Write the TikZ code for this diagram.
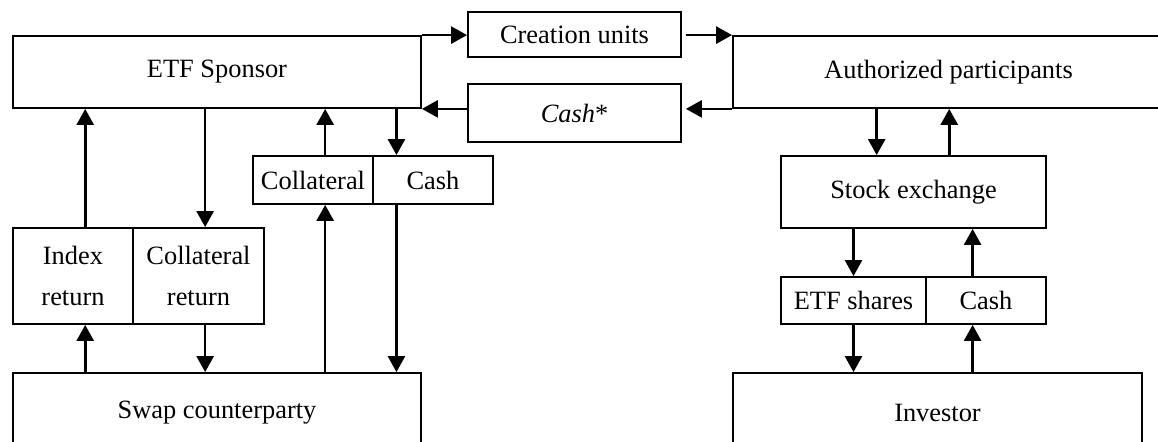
\documentclass[tikz,border=0pt]{standalone}
\usepackage{fontspec}
\setmainfont{Liberation Serif}
\usetikzlibrary{arrows.meta,calc}
\tikzset{
  box/.style={draw, line width=0.9pt, inner sep=0pt, align=center,
    font=\fontsize{13.2pt}{20.5pt}\selectfont},
  arr/.style={line width=1.3pt, -{Triangle[length=8pt,width=8.5pt]}}
}
\begin{document}
\begin{tikzpicture}[x=0.5pt,y=-0.5pt]
\useasboundingbox (0,0) rectangle (1158,442);
\clip (0,0) rectangle (1158,442);
% boxes
\node[box, minimum width=204pt, minimum height=36pt] (sponsor) at (217,72) {ETF Sponsor};
\node[box, minimum width=106.5pt, minimum height=22.5pt] (creation) at (574.5,34.5) {Creation units};
\node[box, minimum width=106.5pt, minimum height=29pt] (cashstar) at (574.5,113) {\textit{Cash}*};
\node[box, minimum width=215.5pt, minimum height=36pt] (ap) at (948.5,72) {Authorized participants};
\node[box, minimum width=60pt, minimum height=24pt] (collat) at (313,180) {Collateral};
\node[box, minimum width=60pt, minimum height=24pt] (cash) at (433,180) {Cash};
\node[box, minimum width=60.2pt, minimum height=48pt] (idx) at (73,276) {Index\\return};
\node[box, minimum width=65.5pt, minimum height=48pt] (colret) at (198.5,276) {Collateral\\return};
\node[box, minimum width=204pt, minimum height=40pt] (swap) at (217,413) {Swap counterparty};
\node[box, minimum width=132.5pt, minimum height=36pt] (stock) at (913.5,192) {Stock exchange};
\node[box, minimum width=72.5pt, minimum height=23.5pt] (shares) at (853.5,300.5) {ETF shares};
\node[box, minimum width=60pt, minimum height=23.5pt] (cash2) at (986,300.5) {Cash};
\node[box, minimum width=204.5pt, minimum height=40pt] (investor) at (937.5,413) {Investor};
% top connectors
\draw[arr] (sponsor.north east) -- (sponsor.north east -| creation.west);
\draw[arr, shorten <=2pt] (creation.east |- ap.north west) -- (ap.north west);
\draw[arr] (cashstar.west |- sponsor.south east) -- (sponsor.south east);
\draw[arr, shorten >=2pt] (ap.south west) -- (ap.south west -| cashstar.east);
% sponsor <-> collateral/cash
\path ($(cash.north west)!0.2!(cash.north east)$) coordinate (k1);
\draw[arr] (k1 |- sponsor.south) -- (k1);
\draw[arr] ($(cash.south west)!0.2!(cash.south east)$) coordinate (k2) -- (k2 |- swap.north);
\path ($(collat.south west)!0.6!(collat.south east)$) coordinate (k3);
\draw[arr] (k3 |- swap.north) -- (k3);
\draw[arr] ($(collat.north west)!0.6!(collat.north east)$) coordinate (k4) -- (k4 |- sponsor.south);
% sponsor <-> index / collateral return
\draw[arr] ($(idx.north west)!0.6!(idx.north east)$) coordinate (k5) -- (k5 |- sponsor.south);
\path ($(idx.south west)!0.6!(idx.south east)$) coordinate (k6);
\draw[arr] (k6 |- swap.north) -- (k6);
\path ($(colret.north west)!0.55!(colret.north east)$) coordinate (k7);
\draw[arr] (k7 |- sponsor.south) -- (k7);
\draw[arr] ($(colret.south west)!0.55!(colret.south east)$) coordinate (k8) -- (k8 |- swap.north);
% right side
\path ($(stock.north west)!0.362!(stock.north east)$) coordinate (k9);
\draw[arr] (k9 |- ap.south) -- (k9);
\draw[arr] ($(stock.north west)!0.634!(stock.north east)$) coordinate (k10) -- (k10 |- ap.south);
\draw[arr] (stock.south -| shares.north) -- (shares.north);
\draw[arr] ($(cash2.north west)!0.39!(cash2.north east)$) coordinate (k11) -- (k11 |- stock.south);
\draw[arr] (shares.south) -- (shares.south |- investor.north);
\path ($(cash2.south west)!0.39!(cash2.south east)$) coordinate (k12);
\draw[arr] (k12 |- investor.north) -- (k12);
\end{tikzpicture}
\end{document}
